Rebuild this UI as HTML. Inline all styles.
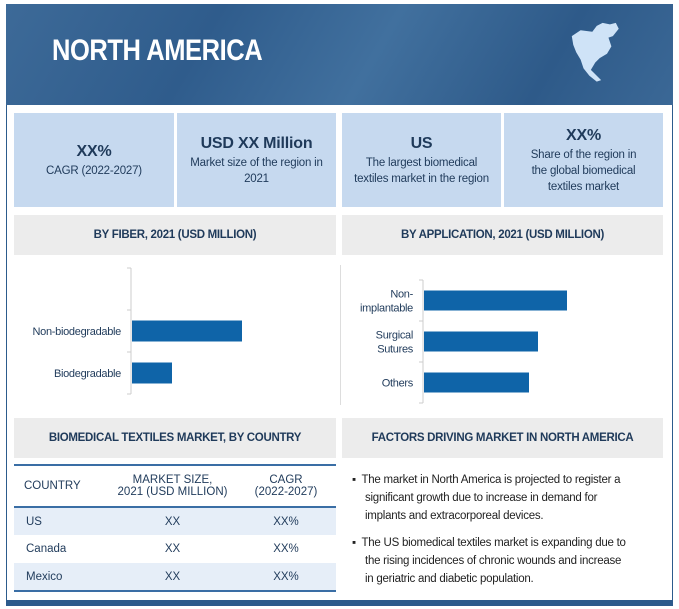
<!DOCTYPE html>
<html><head><meta charset="utf-8"><style>
*{box-sizing:border-box;margin:0;padding:0}
body{width:679px;height:609px;background:#fff;font-family:"Liberation Sans",sans-serif;color:#1f3a5a;position:relative;overflow:hidden}
.abs{position:absolute}
.frame{left:6px;top:4px;width:667px;height:602px;border:1px solid #2c5b8c}
.header{left:6px;top:4px;width:667px;height:101px;background:linear-gradient(120deg,#3d6a98 0%,#2f5c8c 30%,#41709e 55%,#2e5a89 80%,#3b6896 100%)}
.title{left:52px;top:34px;color:#fff;font-size:30px;font-weight:bold;letter-spacing:-0.5px;transform:scaleX(0.85);transform-origin:left}
.card{top:113px;height:94px;background:#c6d9ef;text-align:center;display:flex;flex-direction:column;justify-content:center;align-items:center;font-size:11.5px;line-height:16px;color:#1f3a5a;letter-spacing:-0.2px}
.card b{font-size:16px;line-height:22px}
.sec{height:40px;background:#ececec;font-size:11.5px;font-weight:bold;display:flex;align-items:center;justify-content:center;color:#1f3a5a;letter-spacing:-0.3px}
table{border-collapse:collapse;font-size:11.5px}
td{height:28px}
.bul{font-size:11.5px;line-height:18px;color:#222;padding-left:13px;text-indent:-13px;letter-spacing:-0.25px;white-space:nowrap}
.bottom{left:6px;top:600px;width:667px;height:6px;background:#2c5b8c}
</style></head><body>
<div class="abs frame"></div>
<div class="abs header"></div>
<div class="abs title">NORTH AMERICA</div>
<svg class="abs" style="left:565px;top:20px" width="62" height="66" viewBox="0 0 70 90">
<path d="M2,22 L14,14 L30,16 L36,8 L44,4 L54,6 L62,4 L66,12 L58,22 L52,24 L56,36 L50,46 L40,52 L34,58 L28,68 L34,74 L42,82 L36,84 L26,76 L18,66 L14,54 L8,44 L4,34 Z" fill="#cfe3f7"/>
</svg>
<div class="abs card" style="left:14px;width:160px"><b>XX%</b>CAGR (2022-2027)</div>
<div class="abs card" style="left:177px;width:159px"><b>USD XX Million</b>Market size of the region in<br>2021</div>
<div class="abs card" style="left:342px;width:159px"><b>US</b>The largest biomedical<br>textiles market in the region</div>
<div class="abs card" style="left:504px;width:159px"><b>XX%</b>Share of the region in<br>the global biomedical<br>textiles market</div>
<div class="abs sec" style="left:14px;top:215px;width:322px">BY FIBER, 2021 (USD MILLION)</div>
<div class="abs sec" style="left:342px;top:215px;width:321px">BY APPLICATION, 2021 (USD MILLION)</div>
<div class="abs" style="left:340px;top:265px;width:1px;height:140px;background:#ddd"></div>
<svg id="fiber" class="abs" style="left:0;top:260px" width="340" height="150"></svg>
<svg id="app" class="abs" style="left:341px;top:260px" width="330" height="150"></svg>
<div class="abs sec" style="left:14px;top:418px;width:322px">BIOMEDICAL TEXTILES MARKET, BY COUNTRY</div>
<div class="abs sec" style="left:342px;top:418px;width:321px">FACTORS DRIVING MARKET IN NORTH AMERICA</div>
<table class="abs" style="left:14px;top:464px;width:322px;border-top:2px solid #3a6ea5;border-bottom:2px solid #3a6ea5">
<tr style="height:42px;border-bottom:2px solid #3a6ea5"><td style="padding-left:10px;width:95px">COUNTRY</td><td style="text-align:center">MARKET SIZE,<br>2021 (USD MILLION)</td><td style="text-align:center;width:100px">CAGR<br>(2022-2027)</td></tr>
<tr style="background:#e6eef8"><td style="padding-left:12px">US</td><td style="text-align:center">XX</td><td style="text-align:center">XX%</td></tr>
<tr><td style="padding-left:12px">Canada</td><td style="text-align:center">XX</td><td style="text-align:center">XX%</td></tr>
<tr style="background:#e6eef8"><td style="padding-left:12px">Mexico</td><td style="text-align:center">XX</td><td style="text-align:center">XX%</td></tr>
</table>
<div class="abs bul" style="left:352px;top:471px;width:315px">▪&nbsp; The market in North America is projected to register a<br>significant growth due to increase in demand for<br>implants and extracorporeal devices.</div>
<div class="abs bul" style="left:352px;top:534px;width:315px">▪&nbsp; The US biomedical textiles market is expanding due to<br>the rising incidences of chronic wounds and increase<br>in geriatric and diabetic population.</div>
<div class="abs bottom"></div>
<script>
const fiberCats=["","Non-biodegradable","Biodegradable"];
const fiberVals=[0,55,20];
const appCats=[["Non-","implantable"],["Surgical","Sutures"],["Others"]];
const appVals=[71.5,57,52.5];
const NS="http://www.w3.org/2000/svg";
function mk(svg,tag,attrs){const e=document.createElementNS(NS,tag);for(const k in attrs)e.setAttribute(k,attrs[k]);svg.appendChild(e);return e;}
function draw(id,cats,vals,ax,top,slot,scale,barH){
  const svg=document.getElementById(id);
  const n=cats.length;
  const ln=mk(svg,'line',{x1:ax,x2:ax,y1:top,y2:top+n*slot,stroke:'#ccc'});
  
  
  for(let i=0;i<=n;i++){const t=mk(svg,'line',{x1:ax-4,x2:ax,y1:top+i*slot,y2:top+i*slot,stroke:'#ccc'});
    
    }
  cats.forEach((c,i)=>{
    const cy=top+i*slot+slot/2;
    if(vals[i]>0){const r=mk(svg,'rect',{x:ax+1,y:cy-barH/2,width:vals[i]*scale,height:barH,fill:'#0f64a8'});
      
      }
    const lines=Array.isArray(c)?c:[c];
    lines.forEach((l,j)=>{if(!l)return;const t=mk(svg,'text',{x:ax-10,y:cy+4+(j-(lines.length-1)/2)*14,'text-anchor':'end','font-size':'11','fill':'#1f3a5a','letter-spacing':'-0.3','font-family':'"Liberation Sans",sans-serif'});t.textContent=l;
      
      });
  });
}
draw('fiber',fiberCats,fiberVals,131,8,42,2,21);
draw('app',appCats,appVals,82,20,41,2,20);
</script>
</body></html>
